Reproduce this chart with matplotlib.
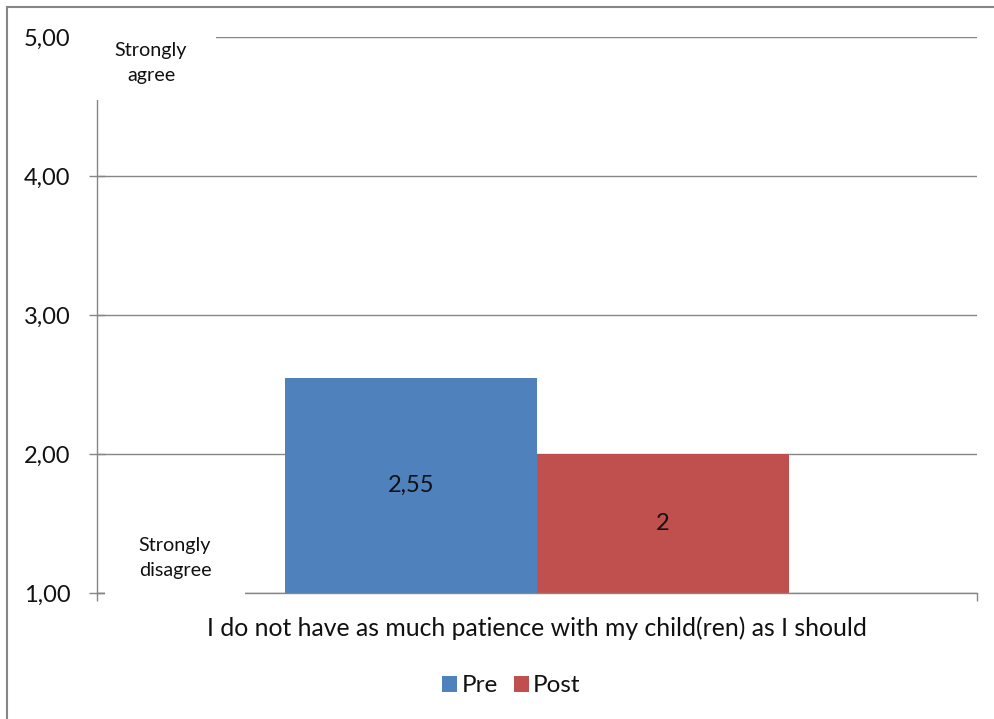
import matplotlib.pyplot as plt
from matplotlib.patches import Rectangle
from matplotlib.ticker import FuncFormatter

plt.rcParams['font.family'] = ['Lato', 'DejaVu Sans']

# data
category = "I do not have as much patience with my child(ren) as I should"
series = ["Pre", "Post"]
values = [2.55, 2.0]
colors = ["#4F81BD", "#C0504D"]
y_ticks = [1, 2, 3, 4, 5]

W, H = 995, 719
fig = plt.figure(figsize=(W / 100, H / 100), dpi=100)

# helper: pixel box -> figure fraction
def px(x0, y0, x1, y1):
    return [x0 / W, 1 - y1 / H, (x1 - x0) / W, (y1 - y0) / H]

ax = fig.add_axes(px(97, 37, 977, 593))
grey = "#868686"
ink = '#111111'

bar_w = 0.2864
offsets = [-bar_w / 2, bar_w / 2]
for name, v, c, off in zip(series, values, colors, offsets):
    b = ax.bar(off, v - 1, bottom=1, width=bar_w, color=c, label=name, zorder=2)
    ax.bar_label(b, labels=[f"{v:g}".replace('.', ',')], label_type='center',
                 fontsize=17, color=ink)

ax.set_xlim(-0.5, 0.5)
ax.set_ylim(1, 5)
ax.set_yticks(y_ticks)
ax.yaxis.set_major_formatter(FuncFormatter(lambda v, p: f"{v:.2f}".replace('.', ',')))
ax.tick_params(axis='y', direction='inout', length=11.5, width=1, color=grey,
               labelsize=17, pad=13.5, labelcolor=ink)
ax.grid(axis='y', color=grey, linewidth=1, zorder=0)
ax.set_axisbelow(True)

ax.set_xticks([-0.5, 0.5])
ax.set_xticklabels([])
ax.tick_params(axis='x', which='major', direction='out', length=5.8, width=1, color=grey)
ax.set_xticks([0], minor=True)
ax.set_xticklabels([category], minor=True)
ax.tick_params(axis='x', which='minor', length=0, labelsize=17.8, pad=17, labelcolor=ink)

for s in ['top', 'right']:
    ax.spines[s].set_visible(False)
for s in ['left', 'bottom']:
    ax.spines[s].set_color(grey)
    ax.spines[s].set_linewidth(1)

# white text boxes over the plot, as in the original
for box in [(86, 26, 216, 100), (105, 519, 245, 598)]:
    r = px(*box)
    fig.patches.append(Rectangle(r[:2], r[2], r[3], transform=fig.transFigure,
                                 facecolor='white', edgecolor='none', zorder=5))
fig.text(151 / W, 1 - 63 / H, "Strongly\nagree", ha='center', va='center', fontsize=14.2,
         linespacing=1.6, color=ink, zorder=6)
fig.text(175 / W, 1 - 558 / H, "Strongly\ndisagree", ha='center', va='center', fontsize=14.2,
         linespacing=1.6, color=ink, zorder=6)

fig.legend(loc='center', bbox_to_anchor=(511.5 / W, 1 - 686 / H), ncol=2, frameon=False,
           fontsize=17.5, handlelength=0.62, handleheight=0.62, handletextpad=0.18,
           columnspacing=0.65, labelcolor=ink)

# outer frame (left and top edges visible)
fig.add_artist(plt.Line2D([7 / W, 7 / W], [0, 1 - 7 / H], transform=fig.transFigure,
                          color=grey, linewidth=1.5))
fig.add_artist(plt.Line2D([7 / W, 1], [1 - 7 / H, 1 - 7 / H], transform=fig.transFigure,
                          color=grey, linewidth=1.5))

fig.savefig("out.png", dpi=100)
